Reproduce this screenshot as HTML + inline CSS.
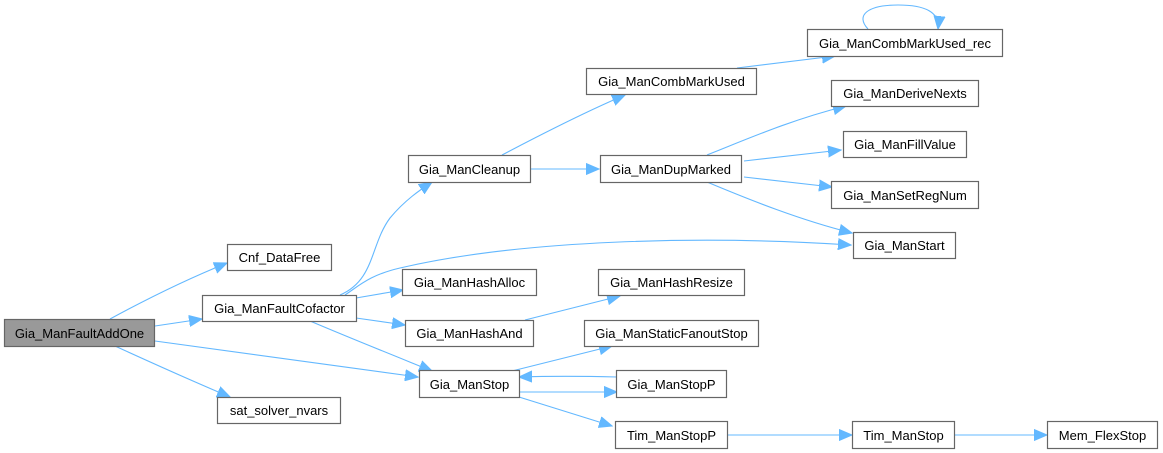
<!DOCTYPE html>
<html><head><meta charset="utf-8"><style>
html,body{margin:0;padding:0;background:#fff;}
svg{display:block;}
text{font-family:"Liberation Sans",Arial,sans-serif;font-size:13px;fill:#000;}
rect{fill:#fff;stroke:#666;stroke-width:1.2;}
path{fill:none;stroke:#63b8ff;stroke-width:1.1;}
</style></head><body>
<svg width="1163" height="453" viewBox="0 0 1163 453" xmlns="http://www.w3.org/2000/svg">
<defs><marker id="a" markerWidth="14" markerHeight="12" refX="13" refY="6" orient="auto" markerUnits="userSpaceOnUse"><path d="M0,0.5 L13,6 L0,11.5 Z" style="fill:#63b8ff;stroke:#63b8ff"/></marker></defs>
<g marker-end="url(#a)">
<path d="M110,319 C145,300 185,280 227,263"/>
<path d="M155,326 L202,319"/>
<path d="M155,341 L418,377"/>
<path d="M115,346 C150,362 190,380 230,397"/>
<path d="M340,295 C375,280 370,245 390,218 C405,200 420,190 432,182"/>
<path d="M345,295 C360,285 370,275 400,268 C520,240 700,235 851,245"/>
<path d="M356,298 L403,290"/>
<path d="M356,318 L405,325"/>
<path d="M310,321 C350,338 395,356 432,371"/>
<path d="M502,155 C540,135 585,112 625,95"/>
<path d="M530,169 L599,169"/>
<path d="M737,68 L835,56"/>
<path d="M868,29 C855,15 868,5 898,5 C925,5 940,12 938,29"/>
<path d="M707,155 C745,140 790,120 846,106"/>
<path d="M744,161 L841,150"/>
<path d="M744,177 L832,187"/>
<path d="M707,182 C750,200 800,220 852,233"/>
<path d="M525,320 L620,296"/>
<path d="M512,371 L612,346"/>
<path d="M519,392 L617,392"/>
<path d="M617,377 C580,376 550,376 519,377"/>
<path d="M519,397 L612,426"/>
<path d="M727,435 L852,435"/>
<path d="M954,435 L1047,435"/>
</g>
<rect x="4.5" y="319.5" width="150" height="27" style="fill:#999"/><text x="79.5" y="338" text-anchor="middle">Gia_ManFaultAddOne</text>
<rect x="227.5" y="244.5" width="104" height="26"/><text x="279.5" y="262" text-anchor="middle">Cnf_DataFree</text>
<rect x="202.5" y="295.5" width="154" height="26"/><text x="279.5" y="313" text-anchor="middle">Gia_ManFaultCofactor</text>
<rect x="217.5" y="397.5" width="123" height="26"/><text x="279" y="415" text-anchor="middle">sat_solver_nvars</text>
<rect x="408.5" y="155.5" width="122" height="27"/><text x="469.5" y="174" text-anchor="middle">Gia_ManCleanup</text>
<rect x="402.5" y="269.5" width="134" height="26"/><text x="469.5" y="287" text-anchor="middle">Gia_ManHashAlloc</text>
<rect x="405.5" y="320.5" width="128" height="26"/><text x="469.5" y="338" text-anchor="middle">Gia_ManHashAnd</text>
<rect x="419.5" y="370.5" width="100" height="27"/><text x="469.5" y="389" text-anchor="middle">Gia_ManStop</text>
<rect x="586.5" y="68.5" width="170" height="26"/><text x="671.5" y="86" text-anchor="middle">Gia_ManCombMarkUsed</text>
<rect x="600.5" y="155.5" width="141" height="27"/><text x="671" y="174" text-anchor="middle">Gia_ManDupMarked</text>
<rect x="598.5" y="269.5" width="146" height="26"/><text x="671.5" y="287" text-anchor="middle">Gia_ManHashResize</text>
<rect x="584.5" y="320.5" width="174" height="26"/><text x="671.5" y="338" text-anchor="middle">Gia_ManStaticFanoutStop</text>
<rect x="616.5" y="370.5" width="110" height="27"/><text x="671.5" y="389" text-anchor="middle">Gia_ManStopP</text>
<rect x="615.5" y="421.5" width="112" height="27"/><text x="671.5" y="440" text-anchor="middle">Tim_ManStopP</text>
<rect x="807.5" y="29.5" width="195" height="27"/><text x="905" y="48" text-anchor="middle">Gia_ManCombMarkUsed_rec</text>
<rect x="831.5" y="80.5" width="147" height="26"/><text x="905" y="98" text-anchor="middle">Gia_ManDeriveNexts</text>
<rect x="843.5" y="131.5" width="123" height="26"/><text x="905" y="149" text-anchor="middle">Gia_ManFillValue</text>
<rect x="831.5" y="181.5" width="147" height="27"/><text x="905" y="200" text-anchor="middle">Gia_ManSetRegNum</text>
<rect x="853.5" y="232.5" width="102" height="26"/><text x="904.5" y="250" text-anchor="middle">Gia_ManStart</text>
<rect x="852.5" y="421.5" width="102" height="27"/><text x="903.5" y="440" text-anchor="middle">Tim_ManStop</text>
<rect x="1047.5" y="421.5" width="110" height="27"/><text x="1102.5" y="440" text-anchor="middle">Mem_FlexStop</text>
</svg>
</body></html>
